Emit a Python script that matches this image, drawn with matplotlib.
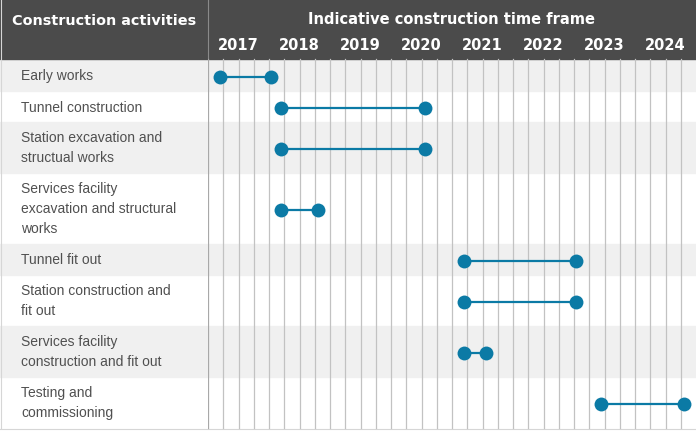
import numpy as np
import matplotlib
matplotlib.use("Agg")
import matplotlib.pyplot as plt
from matplotlib.patches import Rectangle

# ---- data ----
activities = [
    "Early works",
    "Tunnel construction",
    "Station excavation and\nstructual works",
    "Services facility\nexcavation and structural\nworks",
    "Tunnel fit out",
    "Station construction and\nfit out",
    "Services facility\nconstruction and fit out",
    "Testing and\ncommissioning",
]
start = [2017.2, 2018.19, 2018.19, 2018.19, 2021.2, 2021.2, 2021.2, 2023.44]
end = [2018.04, 2020.56, 2020.56, 2018.8, 2023.04, 2023.04, 2021.56, 2024.8]
years = [2017, 2018, 2019, 2020, 2021, 2022, 2023, 2024]
col_title = "Construction activities"
time_title = "Indicative construction time frame"

# ---- style ----
W, H = 696, 435
HEADER_H = 60
LEFT_W = 208
header_color = "#4b4b4b"
band_color = "#f0f0f0"
grid_color = "#c2c2c2"
dot_color = "#0b7aa5"
text_color = "#505050"
body_font = "Liberation Sans"
head_font = "DejaVu Sans"

fig = plt.figure(figsize=(W / 100, H / 100), dpi=100)
bg = fig.add_axes([0, 0, 1, 1])
bg.set_xlim(0, W)
bg.set_ylim(H, 0)
bg.axis("off")

# row layout
n_lines = [len(a.split("\n")) for a in activities]
heights = [11 + 20 * n for n in n_lines]
heights[0] += 1
tops = HEADER_H + np.concatenate([[0], np.cumsum(heights)[:-1]])
bottom = HEADER_H + sum(heights)
centers = tops + np.array(heights) / 2

# header
bg.add_patch(Rectangle((0, 0), W, HEADER_H, color=header_color, zorder=1))
bg.plot([LEFT_W - 0.5, LEFT_W - 0.5], [0, HEADER_H], color="#8a8a8a", lw=0.8, zorder=2)
bg.text(12, 21, col_title, color="white", fontsize=10.4, fontweight="bold",
        family=head_font, ha="left", va="center", zorder=3)

# row bands and labels
for i, (act, t, h, c) in enumerate(zip(activities, tops, heights, centers)):
    if i % 2 == 0:
        bg.add_patch(Rectangle((0, t), W, h, color=band_color, zorder=0))
    lines = act.split("\n")
    n = len(lines)
    for j, line in enumerate(lines):
        y = c + (j - (n - 1) / 2) * 20
        bg.text(21, y, line, color=text_color, fontsize=10, family=body_font,
                ha="left", va="center", zorder=3)

# outer border
bg.plot([0.5, 0.5], [0, bottom], color="#d6d6d6", lw=0.8, zorder=4)
bg.plot([0, W], [bottom + 0.5, bottom + 0.5], color="#d6d6d6", lw=0.8, zorder=4)

# time axes
ax = fig.add_axes([LEFT_W / W, 0, 1 - LEFT_W / W, 1])
ax.set_xlim(years[0], years[-1] + 1)
ax.set_ylim(H, 0)
ax.axis("off")
ax.patch.set_alpha(0)

quarters = np.arange(years[0], years[-1] + 1, 0.25)
for q in quarters:
    col = "#a8a8a8" if q == years[0] else grid_color
    ax.plot([q, q], [HEADER_H, bottom], color=col, lw=0.9, zorder=1)

for yr in years:
    ax.text(yr + 0.5, 45, str(yr), color="white", fontsize=10.5, fontweight="bold",
            family=head_font, ha="center", va="center", zorder=3)
ax.text((years[0] + years[-1] + 1) / 2, 20, time_title, color="white", fontsize=10.5,
        fontweight="bold", family=head_font, ha="center", va="center", zorder=3)

for s, e, c in zip(start, end, centers):
    y = c + 1.5
    ax.plot([s, e], [y, y], color=dot_color, lw=1.6, zorder=4,
            marker="o", markersize=10, markeredgewidth=0, solid_capstyle="butt")

fig.savefig("out.png", dpi=100, facecolor="white")
